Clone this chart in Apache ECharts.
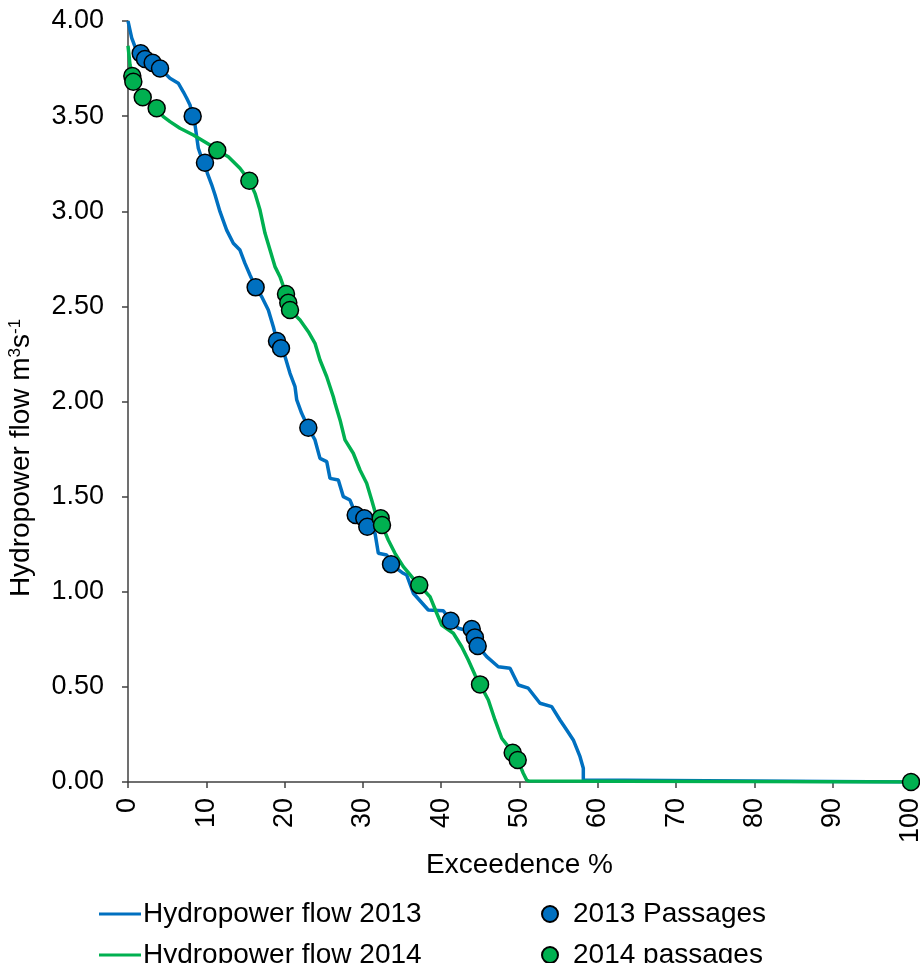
<!DOCTYPE html>
<html>
<head>
<meta charset="utf-8">
<script src="https://cdn.jsdelivr.net/npm/echarts@6/dist/echarts.min.js"></script>
<style>html,body{margin:0;padding:0;background:#fff;}#c{width:920px;height:963px;}</style>
</head>
<body>
<div id="c"></div>
<script>
// Exceedence % / flow pairs
const flow2013X = [0,0.47,0.89,1.62,2.17,3.15,4.09,5.36,6.42,7.06,7.5,7.92,8.26,8.56,8.98,9.41,9.83,10.13,10.69,11.11,11.75,12.6,13.45,14.3,14.94,15.58,16.3,17.08,17.92,18.56,19.03,19.54,20.05,20.69,21.33,21.55,22.18,23.03,23.88,24.52,25.38,25.8,26.86,27.5,28.35,28.77,29.08,30.18,30.56,31.55,31.97,33.04,33.59,35.16,35.59,36.44,38.35,40.27,41.21,42.18,43.04,43.9,44.3,44.66,45.81,47.29,48.79,49.85,51.12,52.62,54.11,55.17,56.03,56.87,57.73,58.15,58.15,58.3,100];
const flow2013Y = [4.0,3.911,3.865,3.83,3.8,3.78,3.75,3.699,3.673,3.628,3.594,3.559,3.497,3.454,3.331,3.28,3.255,3.2,3.139,3.087,2.998,2.901,2.832,2.796,2.726,2.665,2.6,2.551,2.481,2.393,2.318,2.281,2.236,2.148,2.078,2.008,1.938,1.862,1.798,1.701,1.684,1.596,1.587,1.5,1.482,1.439,1.403,1.386,1.342,1.307,1.202,1.193,1.144,1.097,1.088,0.992,0.904,0.9,0.848,0.808,0.799,0.804,0.76,0.715,0.659,0.606,0.598,0.51,0.493,0.414,0.396,0.326,0.273,0.221,0.133,0.072,0.01,0.005,0];

const flow2014X = [0,0.26,0.55,0.68,1.88,3.66,4.51,5.36,6.64,8.34,10.47,11.4,12.81,14.3,15.5,16.22,16.86,17.5,18.14,18.77,19.41,20.18,20.47,20.69,21.97,23.03,23.88,24.52,25.38,26.22,26.44,27.08,27.71,28.77,29.63,30.48,31.12,31.55,32.27,32.44,33.24,34.1,35.16,36.23,37.2,38.57,39.43,40.06,41.55,42.62,43.46,44.32,44.96,46.02,46.87,47.73,48.57,49.13,49.77,50.48,50.92,51.2,100];
const flow2014Y = [3.87,3.768,3.711,3.681,3.599,3.541,3.497,3.471,3.436,3.401,3.348,3.32,3.287,3.226,3.16,3.094,3.006,2.884,2.796,2.709,2.656,2.565,2.519,2.481,2.428,2.367,2.306,2.218,2.13,2.025,1.991,1.903,1.798,1.728,1.64,1.57,1.482,1.421,1.386,1.351,1.272,1.202,1.132,1.079,1.035,0.974,0.887,0.825,0.782,0.711,0.641,0.562,0.513,0.431,0.326,0.23,0.186,0.154,0.116,0.046,0.01,0.005,0];

const pass2013X = [1.62,2.17,3.15,4.09,8.26,9.83,16.3,19.03,19.54,23.03,29.08,30.18,30.56,33.59,41.21,43.9,44.3,44.66];
const pass2013Y = [3.83,3.8,3.78,3.75,3.5,3.255,2.6,2.318,2.28,1.862,1.403,1.386,1.342,1.144,0.848,0.804,0.76,0.715];

const pass2014X = [0.55,0.68,1.88,3.66,11.4,15.5,20.18,20.47,20.69,32.27,32.44,37.2,44.96,49.13,49.77,100];
const pass2014Y = [3.711,3.681,3.599,3.541,3.32,3.16,2.565,2.519,2.481,1.386,1.351,1.035,0.513,0.154,0.116,0];

const xTicks = [0,10,20,30,40,50,60,70,80,90,100];
const yTicks = [0,0.5,1,1.5,2,2.5,3,3.5,4];

const zip = (a,b) => a.map((v,i)=>[v,b[i]]);
const FONT = 'Liberation Sans, Arial, sans-serif';
const BLUE = '#0070C0', GREEN = '#00B050';
const legText = {fontSize:28,color:'#000',fontFamily:FONT,lineHeight:32};

const chart = echarts.init(document.getElementById('c'), null, {renderer:'canvas'});
chart.setOption({
  animation:false,
  backgroundColor:'#fff',
  textStyle:{fontFamily:FONT},
  grid:{left:128,right:9,top:21,bottom:181,containLabel:false,outerBoundsMode:'none'},
  xAxis:{
    type:'value',min:xTicks[0],max:xTicks[xTicks.length-1],interval:10,
    name:'Exceedence %',nameLocation:'middle',nameGap:66,
    nameTextStyle:{fontSize:28,color:'#000',fontFamily:FONT},
    axisLine:{lineStyle:{color:'#404040',width:1.5}},
    axisTick:{show:true,length:6,lineStyle:{color:'#404040',width:1.5}},
    axisLabel:{rotate:90,fontSize:27,color:'#000',margin:16,fontFamily:FONT,hideOverlap:false,showMaxLabel:true,showMinLabel:true},
    splitLine:{show:false}
  },
  yAxis:{
    type:'value',min:yTicks[0],max:yTicks[yTicks.length-1],interval:0.5,
    name:'{a|Hydropower flow m}{s|3}{a|s}{s|-1}',nameLocation:'middle',nameGap:92,nameRotate:90,
    nameTextStyle:{padding:[0,113,0,0],rich:{a:{fontSize:28,color:'#000',fontFamily:FONT},s:{fontSize:17,color:'#000',fontFamily:FONT,verticalAlign:'top',padding:[0,0,12,0]}}},
    axisLine:{show:true,lineStyle:{color:'#404040',width:1.5}},
    axisTick:{show:true,length:6,lineStyle:{color:'#404040',width:1.5}},
    axisLabel:{fontSize:27,color:'#000',margin:24,fontFamily:FONT,formatter:v=>v.toFixed(2)},
    splitLine:{show:false}
  },
  legend:[
    {left:94,top:893,itemWidth:42,itemHeight:3,icon:'rect',
     textStyle:Object.assign({padding:[0,0,0,-3]},legText),data:['Hydropower flow 2013']},
    {left:94,top:934,itemWidth:42,itemHeight:3,icon:'rect',
     textStyle:Object.assign({padding:[0,0,0,-3]},legText),data:['Hydropower flow 2014']},
    {left:536,top:893,itemWidth:16,itemHeight:16,icon:'circle',
     textStyle:Object.assign({padding:[0,0,0,10]},legText),data:['2013 Passages']},
    {left:536,top:934,itemWidth:16,itemHeight:16,icon:'circle',
     textStyle:Object.assign({padding:[0,0,0,10]},legText),data:['2014 passages']}
  ],
  series:[
    {name:'Hydropower flow 2013',type:'line',data:zip(flow2013X,flow2013Y),showSymbol:false,symbol:'none',
     lineStyle:{color:BLUE,width:3.5},itemStyle:{color:BLUE},z:2},
    {name:'Hydropower flow 2014',type:'line',data:zip(flow2014X,flow2014Y),showSymbol:false,symbol:'none',
     lineStyle:{color:GREEN,width:3.5},itemStyle:{color:GREEN},z:3},
    {name:'2013 Passages',type:'scatter',data:zip(pass2013X,pass2013Y),symbol:'circle',symbolSize:17,
     itemStyle:{color:BLUE,borderColor:'#000',borderWidth:1.5,opacity:1},z:4},
    {name:'2014 passages',type:'scatter',data:zip(pass2014X,pass2014Y),symbol:'circle',symbolSize:17,
     itemStyle:{color:GREEN,borderColor:'#000',borderWidth:1.5,opacity:1},z:5}
  ]
});
</script>
</body>
</html>
